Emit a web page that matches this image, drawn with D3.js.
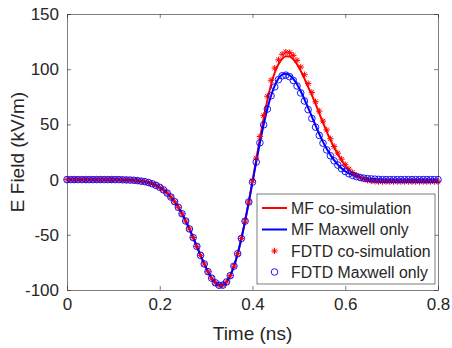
<!DOCTYPE html>
<html>
<head>
<meta charset="utf-8">
<script src="https://cdn.jsdelivr.net/npm/d3@7"></script>
<style>
  body { margin: 0; background: #fff; }
  text { font-family: "Liberation Sans", Arial, Helvetica, sans-serif; fill: #262626; }
</style>
</head>
<body>
<div id="chart"></div>
<script>
var width = 452, height = 348;
var margin = ({top: 14, right: 14, bottom: 58, left: 67});

// time samples (ns)
var timeNs = [
  0.000, 0.008, 0.016, 0.024, 0.032, 0.040, 0.048, 0.056, 0.064, 0.072,
  0.080, 0.088, 0.096, 0.104, 0.112, 0.120, 0.128, 0.136, 0.144, 0.152,
  0.160, 0.168, 0.176, 0.184, 0.192, 0.200, 0.208, 0.216, 0.224, 0.232,
  0.240, 0.248, 0.256, 0.264, 0.272, 0.280, 0.288, 0.296, 0.304, 0.312,
  0.320, 0.328, 0.336, 0.344, 0.352, 0.360, 0.368, 0.376, 0.384, 0.392,
  0.400, 0.408, 0.416, 0.424, 0.432, 0.440, 0.448, 0.456, 0.464, 0.472,
  0.480, 0.488, 0.496, 0.504, 0.512, 0.520, 0.528, 0.536, 0.544, 0.552,
  0.560, 0.568, 0.576, 0.584, 0.592, 0.600, 0.608, 0.616, 0.624, 0.632,
  0.640, 0.648, 0.656, 0.664, 0.672, 0.680, 0.688, 0.696, 0.704, 0.712,
  0.720, 0.728, 0.736, 0.744, 0.752, 0.760, 0.768, 0.776, 0.784, 0.792,
  0.800
];

// MF co-simulation (kV/m)
var mfCoSim = [
  0, 0, 0, 0, 0, 0, 0, 0, 0, 0,
  0, 0, 0, 0, 0, -0.2, -0.3, -0.4, -0.6, -0.9,
  -1.4, -1.9, -2.7, -3.8, -5.2, -7.0, -9.3, -12.2, -15.8, -20.0,
  -25.1, -30.9, -37.5, -44.7, -52.5, -60.5, -68.6, -76.4, -83.4, -89.3,
  -93.5, -95.7, -95.6, -92.7, -87.0, -78.4, -67.1, -53.3, -37.6, -20.3,
  -1.5, 18, 37, 55.5, 72, 86, 97, 104.5, 109.5, 111.8,
  111.5, 109, 104.5, 98.5, 91.5, 84, 76.5, 68.5, 60, 51.5,
  43.5, 36, 29, 23, 17.5, 12.8, 9, 6, 3.7, 2,
  0.7, -0.2, -0.8, -1.2, -1.4, -1.5, -1.5, -1.5, -1.5, -1.5,
  -1.5, -1.5, -1.5, -1.5, -1.5, -1.5, -1.5, -1.5, -1.5, -1.5,
  -1.5
];

// MF Maxwell only
var mfMaxwell = [
  0, 0, 0, 0, 0, 0, 0, 0, 0, 0,
  0, 0, 0, 0, 0, -0.2, -0.3, -0.4, -0.6, -0.9,
  -1.4, -1.9, -2.7, -3.8, -5.2, -7.0, -9.3, -12.2, -15.8, -20.0,
  -25.1, -30.9, -37.5, -44.7, -52.5, -60.5, -68.6, -76.4, -83.4, -89.3,
  -93.5, -95.7, -95.6, -92.7, -87.0, -78.4, -67.1, -53.3, -37.6, -20.3,
  -2.3, 15.9, 33.4, 49.6, 63.9, 75.9, 85.1, 91.6, 95.1, 95.9,
  94.5, 91.2, 86.3, 80.0, 72.8, 65.0, 57.0, 49.0, 41.3, 34.2,
  27.9, 22.4, 17.6, 13.6, 10.3, 7.6, 5.6, 4.0, 2.9, 2.0,
  1.4, 1.0, 0.7, 0.5, 0.3, 0.2, 0.1, 0, 0, 0,
  0, 0, 0, 0, 0, 0, 0, 0, 0, 0,
  0
];

// FDTD co-simulation
var fdtdCoSim = [
  0, 0, 0, 0, 0, 0, 0, 0, 0, 0,
  0, 0, 0, 0, 0, -0.2, -0.3, -0.4, -0.6, -0.9,
  -1.4, -1.9, -2.7, -3.8, -5.2, -7.0, -9.3, -12.2, -15.8, -20.0,
  -25.1, -30.9, -37.5, -44.7, -52.5, -60.5, -68.6, -76.4, -83.4, -89.3,
  -93.5, -95.7, -95.6, -92.7, -87.0, -78.4, -67.1, -53.3, -37.6, -20.3,
  -1, 19.5, 39, 58, 75.5, 90, 101, 108.5, 113.5, 115.5,
  115, 112.5, 108, 102, 95, 87, 79, 70.5, 62, 53,
  45, 37, 30, 24, 18.5, 13.5, 9.5, 6.3, 3.8, 2,
  0.5, -0.5, -1.2, -1.6, -1.8, -1.8, -1.8, -1.8, -1.8, -1.8,
  -1.8, -1.8, -1.8, -1.8, -1.8, -1.8, -1.8, -1.8, -1.8, -1.8,
  -1.8
];

// FDTD Maxwell only
var fdtdMaxwell = [
  0, 0, 0, 0, 0, 0, 0, 0, 0, 0,
  0, 0, 0, 0, 0, -0.2, -0.3, -0.4, -0.6, -0.9,
  -1.4, -1.9, -2.7, -3.8, -5.2, -7.0, -9.3, -12.2, -15.8, -20.0,
  -25.1, -30.9, -37.5, -44.7, -52.5, -60.5, -68.6, -76.4, -83.4, -89.3,
  -93.5, -95.7, -95.6, -92.7, -87.0, -78.4, -67.1, -53.3, -37.6, -20.3,
  -2.3, 15.9, 33.4, 49.6, 63.9, 75.9, 84, 90.5, 94, 94.6,
  93.2, 89.8, 84.8, 78.5, 71.2, 63.4, 55.4, 47.5, 40, 33,
  26.9, 21.6, 17, 13.1, 9.9, 7.3, 5.3, 3.8, 2.7, 1.9,
  1.3, 0.9, 0.6, 0.4, 0.2, 0, 0, 0, 0, 0,
  0, 0, 0, 0, 0, 0, 0, 0, 0, 0,
  0
];

var xTicks = [0, 0.2, 0.4, 0.6, 0.8];
var yTicks = [-100, -50, 0, 50, 100, 150];
var legendLabels = ["MF co-simulation", "MF Maxwell only", "FDTD co-simulation", "FDTD Maxwell only"];

var axisColor = "#262626";

var x = d3.scaleLinear()
    .domain([0, 0.8])
    .range([margin.left, width - margin.right]);

var y = d3.scaleLinear()
    .domain([-100, 150])
    .range([height - margin.bottom, margin.top]);

const svg = d3.select("#chart")
    .append("svg")
    .attr("width", width)
    .attr("height", height)
    .attr("viewBox", [0, 0, width, height]);

var tickLen = 4;

// axes, MATLAB style: box on, ticks inside
var xAxis = g => g
    .attr("transform", `translate(0,${height - margin.bottom})`)
    .call(d3.axisBottom(x).tickValues(xTicks).tickFormat(d3.format("")).tickSizeInner(-tickLen).tickSizeOuter(0).tickPadding(8))
    .call(g => g.selectAll("text").attr("font-size", "17px").attr("fill", axisColor))
    .call(g => g.selectAll("line, .domain").attr("stroke", axisColor).attr("stroke-width", 0.6));

var xAxisTop = g => g
    .attr("transform", `translate(0,${margin.top})`)
    .call(d3.axisTop(x).tickValues(xTicks).tickFormat("").tickSizeInner(-tickLen).tickSizeOuter(0))
    .call(g => g.selectAll("line, .domain").attr("stroke", axisColor).attr("stroke-width", 0.6));

var yAxis = g => g
    .attr("transform", `translate(${margin.left},0)`)
    .call(d3.axisLeft(y).tickValues(yTicks).tickSizeInner(-tickLen).tickSizeOuter(0).tickPadding(8))
    .call(g => g.selectAll("text").attr("font-size", "17px").attr("fill", axisColor))
    .call(g => g.selectAll("line, .domain").attr("stroke", axisColor).attr("stroke-width", 0.6));

var yAxisRight = g => g
    .attr("transform", `translate(${width - margin.right},0)`)
    .call(d3.axisRight(y).tickValues(yTicks).tickFormat("").tickSizeInner(-tickLen).tickSizeOuter(0))
    .call(g => g.selectAll("line, .domain").attr("stroke", axisColor).attr("stroke-width", 0.6));

svg.append("g").call(xAxis);
svg.append("g").call(xAxisTop);
svg.append("g").call(yAxis);
svg.append("g").call(yAxisRight);

// replace minus with hyphen like MATLAB
svg.selectAll(".tick text").text(function () { return d3.select(this).text().replace("\u2212", "-"); });

var line = d3.line()
    .x((d, i) => x(timeNs[i]))
    .y(d => y(d))
    .curve(d3.curveMonotoneX);

var plot = svg.append("g");

plot.append("path")
    .datum(mfCoSim)
    .attr("fill", "none")
    .attr("stroke", "#ff0000")
    .attr("stroke-width", 2)
    .attr("d", line);

plot.append("path")
    .datum(mfMaxwell)
    .attr("fill", "none")
    .attr("stroke", "#0000ff")
    .attr("stroke-width", 2)
    .attr("d", line);

var starPath = "M-3.2,0H3.2M0,-3.2V3.2M-2.3,-2.3L2.3,2.3M-2.3,2.3L2.3,-2.3";

plot.append("g")
    .selectAll("path")
    .data(fdtdCoSim)
    .join("path")
      .attr("transform", (d, i) => `translate(${x(timeNs[i])},${y(d)})`)
      .attr("d", starPath)
      .attr("stroke", "#ff0000")
      .attr("stroke-width", 1)
      .attr("fill", "none");

plot.append("g")
    .selectAll("circle")
    .data(fdtdMaxwell)
    .join("circle")
      .attr("cx", (d, i) => x(timeNs[i]))
      .attr("cy", d => y(d))
      .attr("r", 3.3)
      .attr("stroke", "#0000ff")
      .attr("stroke-width", 0.9)
      .attr("fill", "none");

// axis labels
svg.append("text")
    .attr("x", (margin.left + width - margin.right) / 2)
    .attr("y", 340)
    .attr("text-anchor", "middle")
    .attr("font-size", "19px")
    .text("Time (ns)");

svg.append("text")
    .attr("transform", `translate(24,${(margin.top + height - margin.bottom) / 2}) rotate(-90)`)
    .attr("text-anchor", "middle")
    .attr("font-size", "19px")
    .text("E Field (kV/m)");

// legend
var legend = svg.append("g").attr("transform", "translate(257,194)");
legend.append("rect")
    .attr("width", 178)
    .attr("height", 90)
    .attr("fill", "#fff")
    .attr("stroke", axisColor)
    .attr("stroke-width", 0.6);

var rowY = [14, 35.5, 57, 78];
legendLabels.forEach(function (lab, i) {
    var row = legend.append("g").attr("transform", `translate(0,${rowY[i]})`);
    if (i === 0 || i === 1) {
        row.append("line")
            .attr("x1", 5).attr("x2", 30)
            .attr("stroke", i === 0 ? "#ff0000" : "#0000ff")
            .attr("stroke-width", 2);
    } else if (i === 2) {
        row.append("path")
            .attr("transform", "translate(17.5,0)")
            .attr("d", starPath)
            .attr("stroke", "#ff0000")
            .attr("stroke-width", 1);
    } else {
        row.append("circle")
            .attr("cx", 17.5).attr("r", 3.3)
            .attr("stroke", "#0000ff").attr("stroke-width", 0.9)
            .attr("fill", "none");
    }
    row.append("text")
        .attr("x", 34)
        .attr("dy", "0.35em")
        .attr("font-size", "15.8px")
        .text(lab);
});
</script>
</body>
</html>
